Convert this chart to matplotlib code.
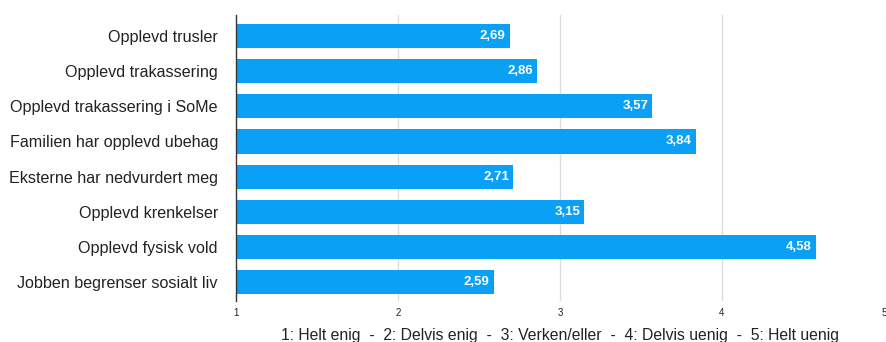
import matplotlib
matplotlib.use("Agg")
import matplotlib.pyplot as plt

categories = [
    "Opplevd trusler",
    "Opplevd trakassering",
    "Opplevd trakassering i SoMe",
    "Familien har opplevd ubehag",
    "Eksterne har nedvurdert meg",
    "Opplevd krenkelser",
    "Opplevd fysisk vold",
    "Jobben begrenser sosialt liv",
]
values = [2.69, 2.86, 3.57, 3.84, 2.71, 3.15, 4.58, 2.59]
x_ticks = [1, 2, 3, 4, 5]
x_label = "1: Helt enig  -  2: Delvis enig  -  3: Verken/eller  -  4: Delvis uenig  -  5: Helt uenig"

plt.rcParams["font.family"] = ["Liberation Sans", "DejaVu Sans"]

fig = plt.figure(figsize=(8.87, 3.42), dpi=100)
ax = fig.add_axes([236 / 887, 1 - 301 / 342, (884 - 236) / 887, (301 - 15) / 342])

bar_color = "#0aa0f6"
ypos = list(range(len(categories)))
ax.barh(ypos, [v - 1 for v in values], left=1, height=0.69, color=bar_color, zorder=2)

for y, v in zip(ypos, values):
    ax.text(v - 0.025, y, f"{v:.2f}".replace(".", ","), ha="right", va="center",
            color="white", fontsize=9.5, fontweight="bold", zorder=3)

ax.set_xlim(1, 5)
ax.set_ylim(7.54, -0.6)
ax.set_yticks(ypos)
ax.set_yticklabels(categories, fontsize=11.6, color="#222222")
ax.set_xticks(x_ticks)
ax.set_xticklabels([str(t) for t in x_ticks], fontsize=7, color="#222222")
ax.tick_params(axis="both", length=0)
ax.tick_params(axis="y", pad=13)
ax.tick_params(axis="x", pad=5)

for t in x_ticks[1:]:
    ax.axvline(t, color="#dddddd", linewidth=1, zorder=1)
for side in ["top", "right", "bottom"]:
    ax.spines[side].set_visible(False)
ax.spines["left"].set_color("#333333")
ax.spines["left"].set_linewidth(1)

ax.set_xlabel(x_label, fontsize=11.3, color="#222222", labelpad=7)

fig.savefig("out.png", dpi=100)
